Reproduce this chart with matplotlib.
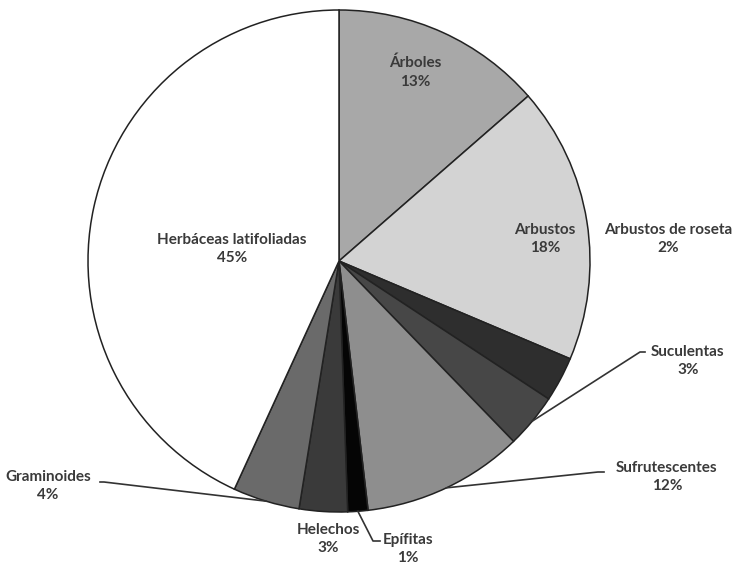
import matplotlib
matplotlib.use("Agg")
import matplotlib.pyplot as plt
import numpy as np

categories = ["Árboles", "Arbustos", "Arbustos de roseta", "Suculentas",
              "Sufrutescentes", "Epífitas", "Helechos", "Graminoides",
              "Herbáceas latifoliadas"]
values = [13.6, 17.8, 2.9, 3.5, 10.4, 1.3, 3.1, 4.3, 43.2]
pct_labels = ["13%", "18%", "2%", "3%", "12%", "1%", "3%", "4%", "45%"]
colors = ["#a8a8a8", "#d3d3d3", "#2e2e2e", "#474747", "#8e8e8e",
          "#050505", "#3a3a3a", "#6a6a6a", "#ffffff"]

W, H = 737, 568
fig = plt.figure(figsize=(W / 100, H / 100), dpi=100)
cx, cy, R = 339, 261, 251
ax = fig.add_axes([(cx - R) / W, (H - cy - R) / H, 2 * R / W, 2 * R / H])

wedges, _ = ax.pie(values, colors=colors, startangle=90, counterclock=False,
                   radius=1.0, center=(0, 0),
                   wedgeprops=dict(edgecolor="#222222", linewidth=1.1))
ax.set_xlim(-1, 1)
ax.set_ylim(-1, 1)
ax.set_aspect("auto")
ax.axis("off")

plt.rcParams['font.family'] = ['Lato', 'DejaVu Sans']


def d(px, py):
    return ((px - cx) / R, (cy - py) / R)


label_pos = {
    "Árboles": (415, 72),
    "Arbustos": (545, 239),
    "Arbustos de roseta": (668, 239),
    "Suculentas": (688, 361),
    "Sufrutescentes": (667, 477),
    "Epífitas": (408, 549),
    "Helechos": (328, 539),
    "Graminoides": (48, 486),
    "Herbáceas latifoliadas": (232, 249),
}
leaders = {
    "Suculentas": ((640, 352), (645, 352)),
    "Sufrutescentes": ((598, 472), (604, 472)),
    "Epífitas": ((373, 541), (380, 541)),
    "Graminoides": ((104, 482), (100, 482)),
}

for name, pct, w in zip(categories, pct_labels, wedges):
    x, y = d(*label_pos[name])
    ax.text(x, y, f"{name}\n{pct}", ha="center", va="center", fontsize=11,
            color="#3a3a3a", fontweight="bold", linespacing=1.45, clip_on=False)
    if name in leaders:
        mid = np.deg2rad((w.theta1 + w.theta2) / 2)
        ax_, ay_ = np.cos(mid), np.sin(mid)
        e1 = d(*leaders[name][0])
        e2 = d(*leaders[name][1])
        ax.plot([ax_, e1[0], e2[0]], [ay_, e1[1], e2[1]], color="#333333",
                lw=1.2, clip_on=False)

fig.savefig("out.png", dpi=100)
